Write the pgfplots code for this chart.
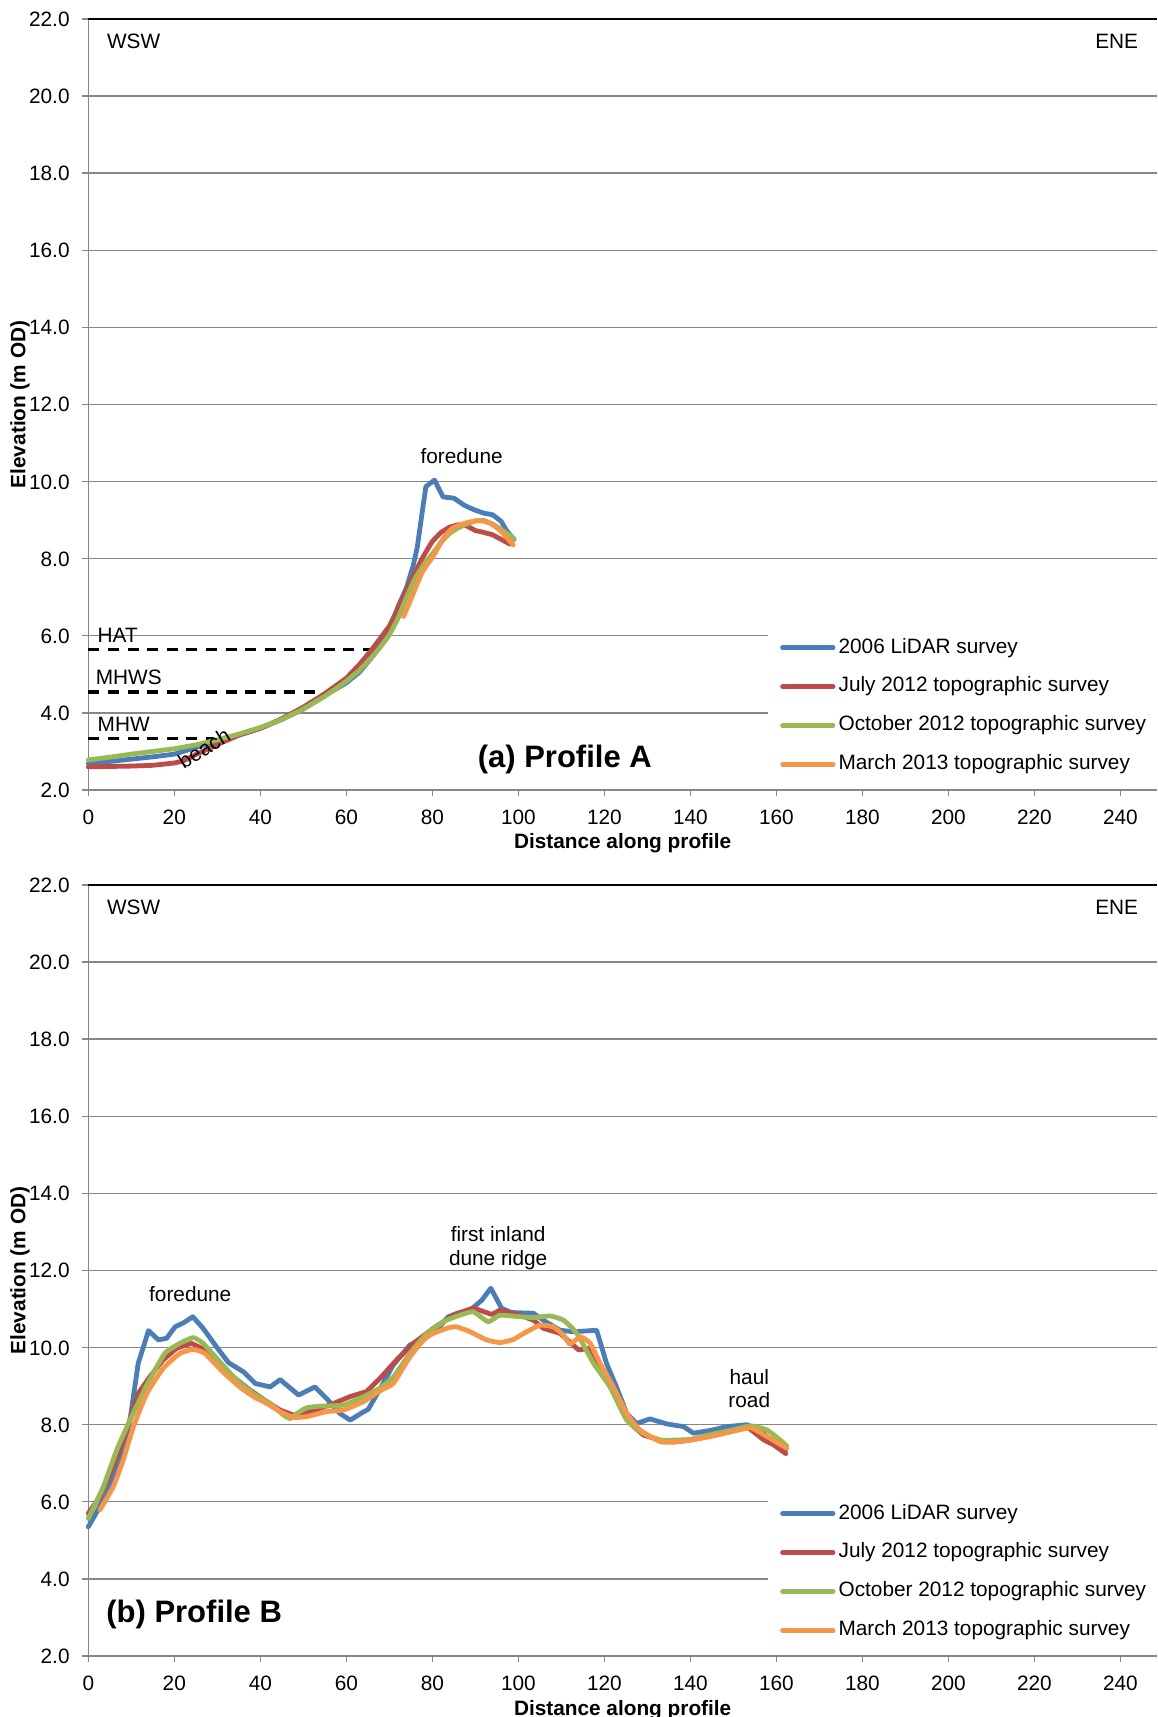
\documentclass[border=0pt]{standalone}
\usepackage{fontspec}
\setmainfont{Liberation Sans}
\usepackage{pgfplots}
\pgfplotsset{compat=1.18}
\definecolor{cblue}{HTML}{4A7EBB}
\definecolor{cred}{HTML}{BE4B48}
\definecolor{cgreen}{HTML}{98B954}
\definecolor{corange}{HTML}{F79646}
\definecolor{gridgray}{HTML}{878787}
\newcommand\fs{\fontsize{10.4}{12.5}\selectfont}
\tikzset{ann/.style={inner sep=0pt, font=\fs}}
\pgfplotsset{
  prof/.style={
    scale only axis, width=534.35pt, height=385.5pt,
    xmin=0, xmax=248.5, ymin=2, ymax=22,
    xtick={0,20,...,240}, ytick={2,4,...,22},
    axis x line*=bottom, axis y line*=left,
    axis line style={draw=gridgray, line width=0.8pt, -},
    ymajorgrids, major grid style={draw=gridgray, line width=0.7pt},
    tick align=outside, major tick length=3pt,
    tick style={draw=gridgray, line width=0.7pt},
    /pgf/number format/assume math mode=true,
    xticklabel style={font=\fs, inner sep=0pt, anchor=north, text height=7.5pt, text depth=0pt},
    yticklabel style={font=\fs, inner sep=0pt, anchor=east, text height=7.5pt, text depth=0pt,
      /pgf/number format/.cd, fixed, fixed zerofill, precision=1},
    xticklabel shift=6.5pt, yticklabel shift=6.15pt,
    xlabel={Distance along profile},
    ylabel={Elevation (m OD)},
    every axis x label/.style={at={(axis description cs:0.5,0)}, anchor=base, yshift=-29.5pt, font=\bfseries\fs},
    every axis y label/.style={at={(axis description cs:-0.0639,0.5)}, rotate=90, anchor=center, font=\bfseries\fs},
    clip=false,
    legend cell align=left,
    legend style={at={(axis cs:158.0,6.16)}, anchor=north west, draw=none, fill=white,
      inner xsep=6pt, inner ysep=4pt, row sep=9.75pt, column sep=1.6pt, font=\fs,
      nodes={inner sep=0pt, text height=7.5pt, text depth=2.2pt}},
    legend image code/.code={\draw[##1, line width=2.4pt, line cap=round] (0pt,0pt) -- (25.2pt,0pt);},
    every axis plot/.append style={line width=2.4pt, line join=round, line cap=round},
  },
}
\begin{document}
\begin{tikzpicture}
\useasboundingbox (0,0) rectangle (578.5pt,858.5pt);
% ---------------- Panel A ----------------
\begin{axis}[prof, at={(44.15pt,463.5pt)}, anchor=south west]
\addplot[black, line width=1.7pt, dash pattern=on 5.5pt off 4.3pt, line cap=butt, forget plot] coordinates {(0,5.65)(66.1,5.65)};
\addplot[black, line width=1.7pt, dash pattern=on 5.5pt off 4.3pt, line cap=butt, forget plot] coordinates {(0,4.54)(54.5,4.54)};
\addplot[black, line width=1.7pt, dash pattern=on 5.5pt off 4.3pt, line cap=butt, forget plot] coordinates {(0,3.34)(29.3,3.34)};
\addplot[cblue] coordinates {(0,2.68)(5,2.74)(10,2.80)(15,2.86)(20,2.93)(25,3.10)(30,3.27)(35,3.43)(40,3.60)(45,3.83)(50,4.10)(55,4.45)(60,4.78)(63,5.05)(66,5.45)(68,5.78)(70,6.15)(72,6.75)(74,7.25)(75.5,7.8)(76.5,8.3)(77.5,9.1)(78.5,9.87)(80.5,10.04)(82.5,9.60)(85,9.57)(87.5,9.38)(89.7,9.27)(92,9.18)(94,9.14)(96,8.97)(97.3,8.72)(99,8.50)};
\addplot[cred] coordinates {(0,2.60)(5,2.61)(10,2.62)(15,2.64)(20,2.70)(22,2.75)(25,2.92)(30,3.18)(35,3.42)(40,3.60)(45,3.85)(50,4.15)(55,4.50)(60,4.90)(63,5.25)(66,5.65)(68,5.95)(70,6.25)(72,6.7)(74,7.2)(76,7.65)(78,8.08)(80,8.45)(82,8.68)(84,8.82)(86,8.88)(88,8.85)(90,8.73)(92,8.68)(94,8.62)(96,8.50)(98,8.38)};
\addplot[cgreen] coordinates {(0,2.78)(5,2.85)(10,2.93)(15,3.00)(20,3.07)(25,3.17)(30,3.30)(35,3.45)(40,3.62)(45,3.83)(50,4.10)(55,4.43)(60,4.82)(63,5.1)(66,5.45)(68,5.72)(70,6.02)(72,6.45)(74,7.0)(76,7.5)(78,7.85)(80,8.12)(82,8.42)(84,8.66)(86,8.80)(88,8.90)(90,8.98)(92,8.99)(94,8.90)(96,8.76)(99,8.52)};
\addplot[corange, smooth, tension=0.4] coordinates {(73.3,6.5)(75.2,7.0)(77.7,7.66)(80.1,8.05)(82.6,8.53)(84.7,8.79)(87.6,8.92)(90.9,8.99)(93.4,8.92)(95.9,8.72)(98.8,8.36)};
\legend{2006 LiDAR survey, July 2012 topographic survey, October 2012 topographic survey, March 2013 topographic survey}
\draw[black, line width=1pt] (rel axis cs:0,1) -- (rel axis cs:1,1);
\node[ann, anchor=west] at (axis cs:4.28,21.41) {WSW};
\node[ann, anchor=east] at (axis cs:244.2,21.41) {ENE};
\node[ann] at (axis cs:86.8,10.67) {foredune};
\node[ann, anchor=west] at (axis cs:2.1,6.02) {HAT};
\node[ann, anchor=west] at (axis cs:1.65,4.92) {MHWS};
\node[ann, anchor=west] at (axis cs:2.1,3.69) {MHW};
\node[ann, rotate=32] at (axis cs:26.9,3.08) {beach};
\node[inner sep=0pt, font=\bfseries\fontsize{15.5}{18}\selectfont] at (axis cs:110.8,2.8) {(a) Profile A};
\end{axis}
% ---------------- Panel B ----------------
\begin{axis}[prof, at={(44.15pt,30.5pt)}, anchor=south west]
\addplot[cblue] coordinates {(0,5.35)(2,5.74)(4.3,6.22)(7.4,7.08)(9.7,8.12)(11.6,9.59)(14,10.44)(16.3,10.20)(18.2,10.24)(20.2,10.54)(22.1,10.64)(24.3,10.80)(26.7,10.50)(29.8,10.02)(32.6,9.61)(36.1,9.37)(38.8,9.07)(42.3,8.98)(44.6,9.17)(48.9,8.77)(52.7,8.98)(55.4,8.68)(58.5,8.29)(60.9,8.12)(63.5,8.30)(65.1,8.40)(67.8,8.92)(70.9,9.55)(74.8,10.07)(78.3,10.24)(81,10.45)(83.7,10.80)(86,10.90)(88.8,10.97)(91.5,11.23)(93.6,11.54)(96.1,11.02)(98.4,10.91)(103.5,10.89)(105.8,10.71)(109.7,10.45)(112.8,10.41)(118.2,10.45)(120.5,9.59)(122.8,8.98)(125.2,8.29)(127.5,8.03)(130.6,8.15)(134.5,8.02)(138.4,7.95)(140.7,7.78)(144.6,7.85)(148.5,7.95)(153.1,8.0)(156.2,7.87)(159.3,7.52)(162.2,7.35)};
\addplot[cred] coordinates {(0,5.70)(2.7,6.13)(5.8,6.91)(8.9,7.86)(11.6,8.81)(14.3,9.24)(17.4,9.68)(20.5,9.98)(24,10.11)(26.4,9.98)(29.8,9.63)(33.7,9.24)(37.6,8.90)(41.5,8.60)(44.6,8.38)(47.7,8.25)(52.3,8.36)(57,8.55)(60.9,8.73)(64.7,8.86)(67.8,9.20)(71.7,9.68)(75.6,10.11)(80.2,10.5)(84.9,10.84)(89.5,11.03)(93.8,10.86)(95.7,10.97)(100.4,10.84)(103.5,10.71)(105.8,10.50)(109.7,10.37)(114,9.94)(116.7,9.98)(119.8,9.33)(122.9,8.73)(126,8.03)(129.1,7.73)(133,7.60)(136,7.55)(140,7.6)(145,7.72)(150,7.85)(153.5,7.92)(157,7.61)(159.3,7.48)(162.2,7.25)};
\addplot[cgreen, smooth, tension=0.3] coordinates {(0,5.57)(3.5,6.39)(6.6,7.34)(9.7,8.12)(13.6,9.03)(17.8,9.85)(21.3,10.11)(24.4,10.26)(26.7,10.11)(30.6,9.63)(34.5,9.16)(38.4,8.81)(42.3,8.55)(45.4,8.25)(47,8.16)(48.5,8.29)(50.8,8.44)(53.9,8.48)(59.3,8.51)(64,8.73)(67.8,8.95)(71,9.25)(74.8,9.85)(78.7,10.37)(83.3,10.71)(86.4,10.84)(89.5,10.93)(93,10.67)(95.7,10.84)(100.4,10.80)(103.5,10.78)(107.4,10.82)(110.5,10.71)(113.6,10.37)(117.5,9.59)(121.3,8.98)(125.2,8.12)(129.1,7.77)(133,7.60)(136,7.6)(140,7.62)(145,7.75)(150,7.87)(154,7.97)(157.7,7.87)(160.8,7.61)(162.4,7.45)};
\addplot[corange, smooth, tension=0.3] coordinates {(2.7,5.79)(5.8,6.39)(8.1,7.08)(10.5,7.95)(13.6,8.81)(17.4,9.46)(21.3,9.85)(24.4,9.95)(27.1,9.85)(31.3,9.37)(35.2,8.98)(38.4,8.73)(41.5,8.55)(44.6,8.34)(47.7,8.19)(50.8,8.21)(55.4,8.34)(59.3,8.38)(64,8.60)(67.8,8.88)(70.9,9.07)(74.8,9.76)(78.7,10.28)(83.3,10.50)(85.6,10.54)(88.8,10.41)(92.6,10.2)(95.7,10.13)(98.8,10.21)(101.9,10.41)(105,10.58)(108.1,10.54)(110.5,10.32)(112,10.09)(114.4,10.28)(116.7,10.11)(119,9.59)(122.1,8.98)(125.2,8.29)(128.3,7.86)(133,7.56)(136,7.55)(140,7.6)(145,7.7)(150,7.83)(154,7.92)(157.7,7.7)(162.4,7.39)};
\legend{2006 LiDAR survey, July 2012 topographic survey, October 2012 topographic survey, March 2013 topographic survey}
\draw[black, line width=1pt] (rel axis cs:0,1) -- (rel axis cs:1,1);
\node[ann, anchor=west] at (axis cs:4.28,21.41) {WSW};
\node[ann, anchor=east] at (axis cs:244.2,21.41) {ENE};
\node[ann] at (axis cs:23.7,11.40) {foredune};
\node[ann, align=center, font=\fontsize{10.4}{12}\selectfont] at (axis cs:95.3,12.59) {first inland\\dune ridge};
\node[ann, align=center, font=\fontsize{10.4}{11.8}\selectfont] at (axis cs:153.7,8.94) {haul\\road};
\node[inner sep=0pt, anchor=west, font=\bfseries\fontsize{15.5}{18}\selectfont] at (axis cs:4.1,3.08) {(b) Profile B};
\end{axis}
\end{tikzpicture}
\end{document}
